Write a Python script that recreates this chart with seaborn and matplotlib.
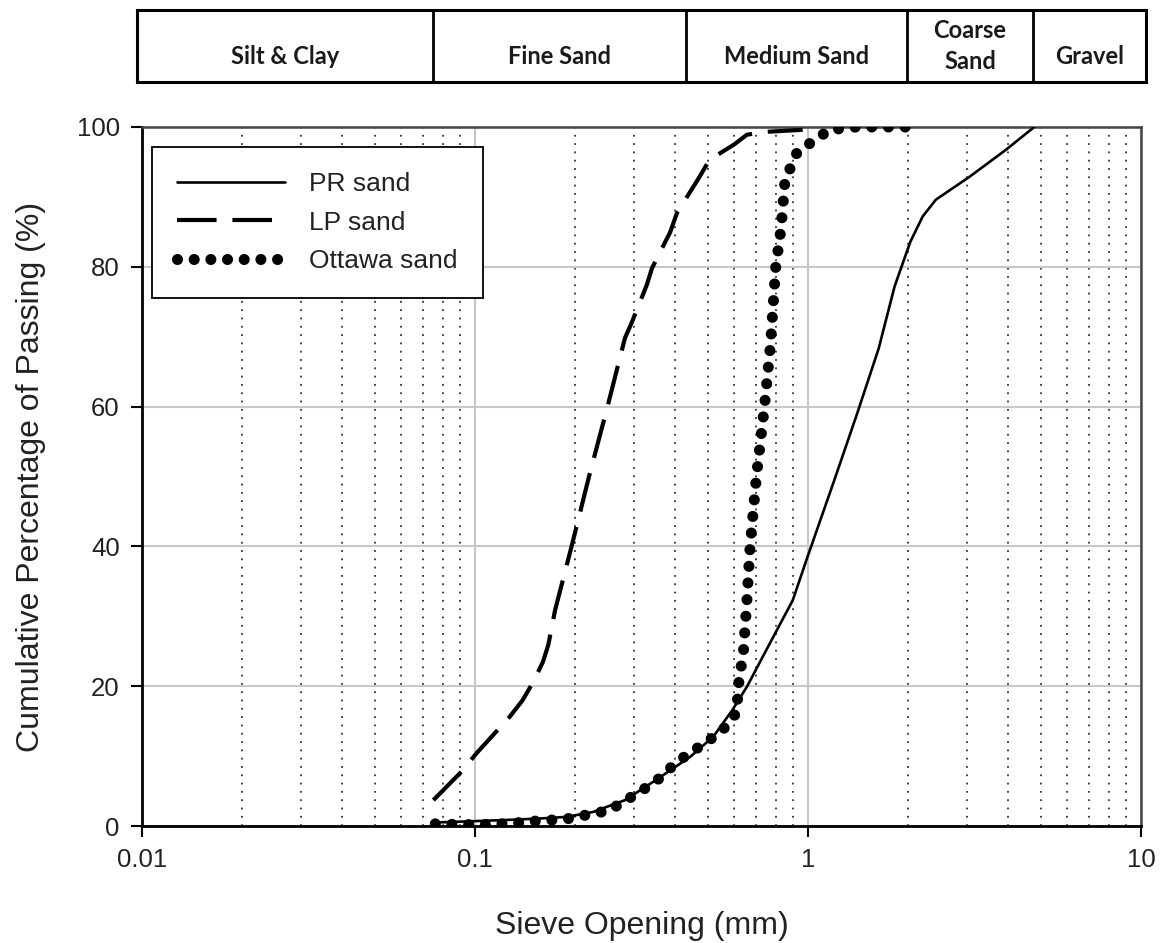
import matplotlib
matplotlib.use("Agg")
import matplotlib.pyplot as plt
from matplotlib.ticker import LogLocator, NullFormatter, FixedLocator
import seaborn as sns
import pandas as pd

# ---------------- data ----------------
pr_x = [0.076, 0.1, 0.13, 0.16, 0.188, 0.226, 0.282, 0.35, 0.443, 0.52, 0.593, 0.655,
        0.75, 0.90, 1.0, 1.2, 1.4, 1.63, 1.82, 2.03, 2.21, 2.42, 3.06, 3.92, 4.78]
pr_y = [0.5, 0.7, 0.9, 1.1, 1.3, 2.0, 3.7, 6.6, 9.9, 12.8, 16.6, 19.9,
        25.2, 32.3, 38.7, 49.5, 58.8, 68.3, 77.2, 83.6, 87.2, 89.6, 92.9, 96.7, 100]

lp_x = [0.075, 0.0912, 0.101, 0.127, 0.139, 0.150, 0.160, 0.166, 0.174, 0.195, 0.22, 0.25,
        0.282, 0.296, 0.328, 0.340, 0.386, 0.404, 0.470, 0.506, 0.60, 0.656, 0.743, 0.964]
lp_y = [3.7, 7.8, 10.4, 15.6, 18.0, 20.7, 23.5, 25.9, 30.9, 40, 50, 60,
        69.8, 72.1, 77.4, 79.8, 85.0, 87.7, 92.7, 95.3, 97.5, 98.9, 99.3, 99.6]

ot_x = [0.076, 0.09, 0.11, 0.13, 0.16, 0.18, 0.20, 0.23, 0.25, 0.28, 0.32, 0.36, 0.40,
        0.44, 0.50, 0.56, 0.61, 0.62, 0.64, 0.655, 0.67, 0.70, 0.74, 0.772, 0.80, 0.83,
        0.853, 0.93, 1.04, 1.16, 1.4, 2.03]
ot_y = [0.3, 0.2, 0.2, 0.4, 0.8, 0.9, 1.2, 1.9, 2.1, 3.5, 5.2, 6.9, 9.0,
        10.4, 12.1, 14.0, 16.2, 20.6, 25, 32, 40, 50, 60, 69, 80, 85.5,
        92.4, 96.5, 98.0, 99.6, 100, 100]

series_names = ["PR sand", "LP sand", "Ottawa sand"]

x_ticks = [0.01, 0.1, 1, 10]
x_tick_labels = ["0.01", "0.1", "1", "10"]
y_ticks = [0, 20, 40, 60, 80, 100]

band_labels = ["Silt & Clay", "Fine Sand", "Medium Sand", "Coarse\nSand", "Gravel"]
band_edges = [0.0, 0.2934, 0.5441, 0.7631, 0.888, 1.0]

# ---------------- style ----------------
sns.set_theme(style="ticks")
plt.rcParams['font.family'] = ['Liberation Sans', 'DejaVu Sans']
plt.rcParams['text.color'] = '#222222'
plt.rcParams['axes.labelcolor'] = '#222222'
plt.rcParams['xtick.color'] = 'black'
plt.rcParams['ytick.color'] = 'black'
plt.rcParams['xtick.labelcolor'] = '#222222'
plt.rcParams['ytick.labelcolor'] = '#222222'

fig = plt.figure(figsize=(11.62, 9.43), dpi=100)
ax = fig.add_axes([142 / 1162, 117 / 943, 999 / 1162, 699 / 943])

df_pr = pd.DataFrame({"x": pr_x, "y": pr_y})
df_lp = pd.DataFrame({"x": lp_x, "y": lp_y})
df_ot = pd.DataFrame({"x": ot_x, "y": ot_y})

sns.lineplot(data=df_pr, x="x", y="y", ax=ax, color="black", lw=1.9, sort=False,
             estimator=None, label=series_names[0], zorder=4)
sns.lineplot(data=df_lp, x="x", y="y", ax=ax, color="black", lw=3.0, sort=False,
             estimator=None, label=series_names[1], linestyle=(0, (9.5, 3.8)), zorder=4)
sns.lineplot(data=df_ot, x="x", y="y", ax=ax, color="black", lw=8.0, sort=False,
             estimator=None, label=series_names[2], linestyle=(0, (0.001, 1.5)),
             dash_capstyle='round', zorder=5)

ax.set_xscale('log')
ax.set_xlim(0.01, 10)
ax.set_ylim(0, 100)
ax.xaxis.set_major_locator(FixedLocator(x_ticks))
ax.set_xticklabels(x_tick_labels)
ax.xaxis.set_minor_locator(LogLocator(base=10, subs=list(range(2, 10))))
ax.xaxis.set_minor_formatter(NullFormatter())
ax.set_yticks(y_ticks)

ax.set_axisbelow(True)
ax.grid(which='major', color='#c8c8c8', lw=1.5)
ax.grid(which='minor', axis='x', color='#333333', lw=1.3, linestyle=(0, (1, 3.6)))
ax.tick_params(which='minor', length=0)
ax.tick_params(which='major', direction='out', length=8, width=1.5, labelsize=18.5, pad=8)

for side in ['left', 'bottom']:
    ax.spines[side].set_color('black')
    ax.spines[side].set_linewidth(2.0)
for side in ['top', 'right']:
    ax.spines[side].set_visible(True)
    ax.spines[side].set_color('#444444')
    ax.spines[side].set_linewidth(1.8)

ax.set_xlabel("Sieve Opening (mm)", fontsize=23, labelpad=28)
ax.set_ylabel("Cumulative Percentage of Passing (%)", fontsize=23, labelpad=22)

leg = ax.legend(loc='upper left', bbox_to_anchor=(0.010, 0.9714), fontsize=19,
                frameon=True, fancybox=False, framealpha=1, edgecolor='black',
                borderpad=0.95, handlelength=4.1, handletextpad=0.9, labelspacing=0.55,
                borderaxespad=0)
leg.get_frame().set_linewidth(1.3)

# ---------------- size class band ----------------
bx = fig.add_axes([137 / 1162, 1 - 82 / 943, 1009 / 1162, 72 / 943])
bx.set_xlim(0, 1)
bx.set_ylim(0, 1)
bx.set_xticks([])
bx.set_yticks([])
for s in bx.spines.values():
    s.set_linewidth(2.2)
    s.set_color('black')
for e in band_edges[1:-1]:
    bx.axvline(e, color='black', lw=2.0)
for i, lab in enumerate(band_labels):
    cx = (band_edges[i] + band_edges[i + 1]) / 2
    cy = 0.5 if "\n" in lab else 0.35
    bx.text(cx, cy, lab, ha='center', va='center', fontsize=17, fontweight='bold',
            family=['Lato', 'DejaVu Sans'], color='#1a1a1a', linespacing=1.45)

fig.savefig("out.png", dpi=100)
